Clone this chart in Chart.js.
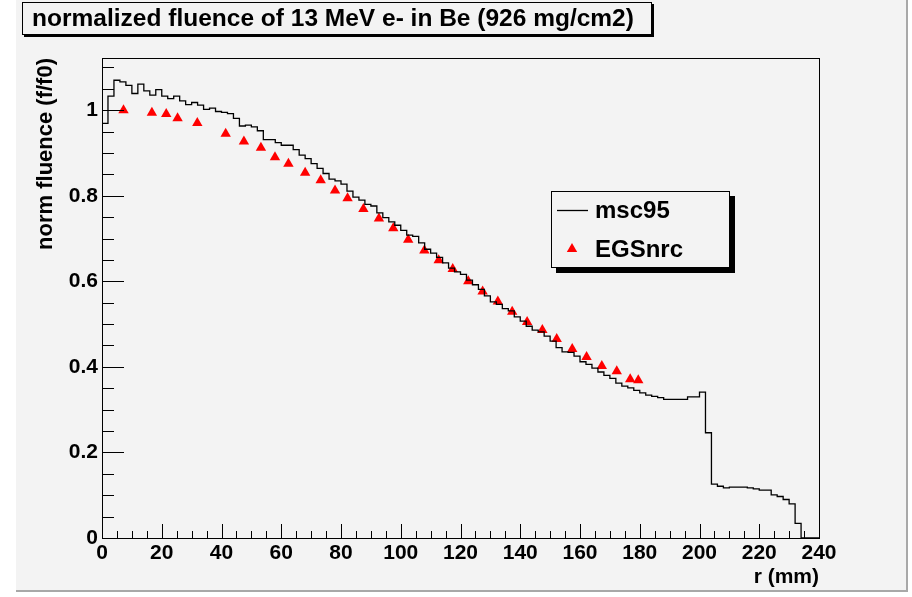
<!DOCTYPE html>
<html>
<head>
<meta charset="utf-8">
<script src="https://cdn.jsdelivr.net/npm/chart.js@4.4.0/dist/chart.umd.min.js"></script>
<style>
  html, body { margin: 0; padding: 0; background: #ffffff; }
  #wrap { position: relative; width: 912px; height: 597px; }
</style>
</head>
<body>
<div id="wrap"><canvas id="fluenceChart" width="912" height="597"></canvas></div>
<script>
// ------------------------------------------------------------
// Données : msc95 (histogramme, pas de 2 mm) et EGSnrc (points)
// ------------------------------------------------------------
const binWidth = 2;
const msc95Fluence = [
  0.969, 1.033, 1.070, 1.066, 1.058, 1.039, 1.061, 1.045, 1.035, 1.048,
  1.033, 1.027, 1.033, 1.022, 1.013, 1.018, 1.012, 1.002, 1.005, 0.997,
  0.995, 0.992, 0.981, 0.963, 0.965, 0.961, 0.952, 0.931, 0.931, 0.924,
  0.918, 0.918, 0.908, 0.895, 0.887, 0.875, 0.864, 0.852, 0.839, 0.835,
  0.827, 0.811, 0.797, 0.790, 0.780, 0.776, 0.760, 0.749, 0.739, 0.731,
  0.719, 0.708, 0.705, 0.690, 0.675, 0.666, 0.656, 0.643, 0.631, 0.622,
  0.616, 0.603, 0.592, 0.581, 0.566, 0.552, 0.546, 0.536, 0.531, 0.517,
  0.507, 0.495, 0.486, 0.482, 0.472, 0.460, 0.445, 0.435, 0.434, 0.425,
  0.412, 0.406, 0.397, 0.388, 0.380, 0.373, 0.362, 0.355, 0.351, 0.345,
  0.339, 0.334, 0.331, 0.328, 0.324, 0.324, 0.324, 0.324, 0.330, 0.330,
  0.341, 0.246, 0.126, 0.121, 0.117, 0.119, 0.119, 0.119, 0.117, 0.115,
  0.112, 0.112, 0.101, 0.097, 0.090, 0.080, 0.034, 0, 0, 0
];
const egsR = [
  7.2, 16.7, 21.5, 25.3, 31.9, 41.4, 47.5, 53.2, 57.9, 62.4,
  68.0, 73.2, 78.0, 82.2, 87.5, 92.7, 97.5, 102.5, 107.9, 112.7,
  117.4, 122.6, 127.4, 132.5, 137.3, 142.3, 147.4, 152.2, 157.4, 162.2,
  167.3, 172.3, 176.8, 179.5
];
const egsFluence = [
  1.000, 0.994, 0.991, 0.981, 0.970, 0.945, 0.927, 0.912, 0.890, 0.875,
  0.854, 0.836, 0.812, 0.794, 0.769, 0.747, 0.724, 0.697, 0.672, 0.649,
  0.629, 0.600, 0.576, 0.553, 0.529, 0.505, 0.486, 0.465, 0.442, 0.423,
  0.402, 0.390, 0.371, 0.369
];
const xTicks = [0, 20, 40, 60, 80, 100, 120, 140, 160, 180, 200, 220, 240];
const yTicks = [0, 0.2, 0.4, 0.6, 0.8, 1];
const xMinorStep = 5;
const yMinorStep = 0.05;

const FONT = '"Liberation Sans", Arial, Helvetica, sans-serif';
const FOND = '#f3f3f3';

// points de l'histogramme (bord gauche de chaque bin)
const histoPoints = [{ x: 0, y: 0 }];
msc95Fluence.forEach(function (v, i) {
    histoPoints.push({ x: i * binWidth, y: v });
});
histoPoints.push({ x: msc95Fluence.length * binWidth, y: 0 });

// Fond du canevas façon ROOT
const fondPlugin = {
    id: 'fond',
    beforeDraw: function (chart) {
        const ctx = chart.ctx;
        ctx.save();
        ctx.fillStyle = '#ffffff';
        ctx.fillRect(0, 0, chart.width, chart.height);
        ctx.fillStyle = FOND;
        ctx.fillRect(16, 0, 890, 590);
        ctx.fillStyle = '#a8a8a8';
        ctx.fillRect(906, 0, 2, 592);
        ctx.fillRect(16, 590, 892, 2);
        ctx.restore();
    }
};

// Cadre + graduations tournées vers l'intérieur
const cadrePlugin = {
    id: 'cadre',
    afterDatasetsDraw: function (chart) {
        const ctx = chart.ctx;
        const a = chart.chartArea;
        const sx = chart.scales.x;
        const sy = chart.scales.y;
        ctx.save();
        ctx.strokeStyle = '#000000';
        ctx.lineWidth = 1;
        ctx.beginPath();
        // graduations x
        for (let v = 0; v <= sx.max + 1e-9; v += xMinorStep) {
            const px = Math.round(sx.getPixelForValue(v)) + 0.5;
            const major = xTicks.indexOf(v) !== -1;
            ctx.moveTo(px, a.bottom);
            ctx.lineTo(px, a.bottom - (major ? 14 : 7));
        }
        // graduations y
        for (let k = 0; k * yMinorStep <= sy.max + 1e-9; k++) {
            const v = k * yMinorStep;
            const py = Math.round(sy.getPixelForValue(v)) + 0.5;
            const major = k % 4 === 0;
            ctx.moveTo(a.left, py);
            ctx.lineTo(a.left + (major ? 22 : 12), py);
        }
        ctx.stroke();
        ctx.strokeRect(Math.round(a.left) + 0.5, Math.round(a.top) + 0.5,
            Math.round(a.right - a.left), Math.round(a.bottom - a.top));
        ctx.restore();
    }
};

// Boîte de titre et légende
const boitesPlugin = {
    id: 'boites',
    afterDraw: function (chart) {
        const ctx = chart.ctx;
        ctx.save();
        // titre
        ctx.fillStyle = '#000000';
        ctx.fillRect(24, 4, 630, 33);
        ctx.fillStyle = FOND;
        ctx.fillRect(22, 2, 630, 33);
        ctx.strokeStyle = '#000000';
        ctx.lineWidth = 1;
        ctx.strokeRect(22.5, 2.5, 629, 32);
        ctx.fillStyle = '#000000';
        ctx.font = 'bold 24.5px ' + FONT;
        ctx.textAlign = 'center';
        ctx.textBaseline = 'middle';
        ctx.fillText('normalized fluence of 13 MeV e- in Be (926 mg/cm2)', 333, 19);

        // légende
        const lx = 551, ly = 191, lw = 179, lh = 77;
        ctx.fillStyle = '#000000';
        ctx.fillRect(lx + 5, ly + 5, lw, lh);
        ctx.fillStyle = FOND;
        ctx.fillRect(lx, ly, lw, lh);
        ctx.strokeRect(lx + 0.5, ly + 0.5, lw - 1, lh - 1);

        const ds = chart.data.datasets;
        ctx.beginPath();
        ctx.moveTo(557, 210.5);
        ctx.lineTo(588, 210.5);
        ctx.strokeStyle = ds[0].borderColor;
        ctx.lineWidth = ds[0].borderWidth;
        ctx.stroke();
        Chart.helpers.drawPoint(ctx, {
            pointStyle: 'triangle', radius: ds[1].pointRadius, borderWidth: 0
        }, 572, 249);
        ctx.fillStyle = ds[1].backgroundColor;
        ctx.fill();

        ctx.fillStyle = '#000000';
        ctx.font = 'bold 24px ' + FONT;
        ctx.textAlign = 'left';
        ctx.textBaseline = 'middle';
        ctx.fillText(ds[0].label, 595, 211);
        ctx.fillText(ds[1].label, 595, 250);
        ctx.restore();
    }
};

new Chart(document.getElementById('fluenceChart').getContext('2d'), {
    type: 'scatter',
    data: {
        datasets: [{
            label: 'msc95',
            type: 'line',
            data: histoPoints,
            stepped: true,
            borderColor: '#000000',
            borderWidth: 1.3,
            pointRadius: 0,
            fill: false
        }, {
            label: 'EGSnrc',
            data: egsR.map(function (r, i) { return { x: r, y: egsFluence[i] }; }),
            pointStyle: 'triangle',
            pointRadius: 6,
            borderWidth: 0,
            backgroundColor: '#ff0000'
        }]
    },
    options: {
        responsive: false,
        animation: false,
        devicePixelRatio: 1,
        layout: { autoPadding: false, padding: { left: 0, top: 58, right: 93, bottom: 0 } },
        plugins: { legend: { display: false }, tooltip: { enabled: false } },
        scales: {
            x: {
                type: 'linear',
                min: 0,
                max: 240,
                afterBuildTicks: function (s) { s.ticks = xTicks.map(function (v) { return { value: v }; }); },
                afterFit: function (s) { s.height = 59; },
                grid: { display: false, drawTicks: false },
                border: { display: false },
                ticks: {
                    color: '#000000', padding: 3, maxRotation: 0, autoSkip: false,
                    font: { family: FONT, size: 21, weight: 'bold' }
                },
                title: {
                    display: true, text: 'r (mm)', align: 'end', color: '#000000',
                    font: { family: FONT, size: 21, weight: 'bold' },
                    padding: { top: 0, bottom: 7 }
                }
            },
            y: {
                min: 0,
                max: 1.122,
                afterBuildTicks: function (s) { s.ticks = yTicks.map(function (v) { return { value: v }; }); },
                afterFit: function (s) { s.width = 102; },
                grid: { display: false, drawTicks: false },
                border: { display: false },
                ticks: {
                    color: '#000000', padding: 4,
                    font: { family: FONT, size: 21, weight: 'bold' },
                    callback: function (v) { return String(v); }
                },
                title: {
                    display: true, text: 'norm fluence (f/f0)', align: 'end', color: '#000000',
                    font: { family: FONT, size: 22, weight: 'bold' },
                    padding: { top: 33, bottom: 0 }
                }
            }
        }
    },
    plugins: [fondPlugin, cadrePlugin, boitesPlugin]
});
</script>
</body>
</html>
